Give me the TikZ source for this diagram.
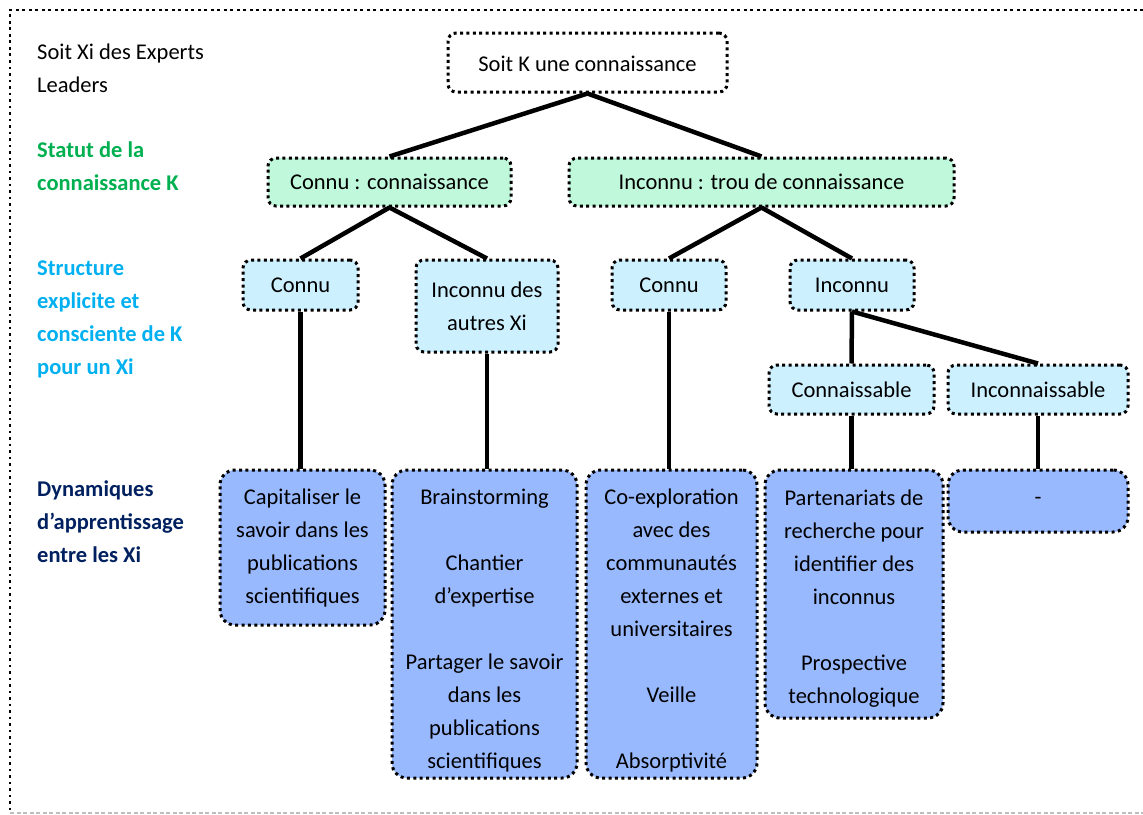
\documentclass[tikz,border=0pt]{standalone}
\usepackage{fontspec}
\setmainfont{Carlito}
\definecolor{lvgreen}{RGB}{191,248,218}
\definecolor{lvblue}{RGB}{205,240,255}
\definecolor{lvdark}{RGB}{153,185,255}
\definecolor{lblgreen}{RGB}{0,176,80}
\definecolor{lblcyan}{RGB}{0,176,240}
\definecolor{lblnavy}{RGB}{0,32,96}
\definecolor{bordergray}{RGB}{190,190,190}
\tikzset{
  txt/.style={font={\fontsize{22.5}{33}\selectfont}},
  dotbox/.style={txt, draw=black, line width=3pt, dash pattern=on 3pt off 3.4pt,
    align=center, inner sep=0pt, rounded corners=8pt},
  topbox/.style={dotbox, fill=white},
  greenbox/.style={dotbox, fill=lvgreen},
  bluebox/.style={dotbox, fill=lvblue},
  dynbox/.style={dotbox, fill=lvdark, rounded corners=15pt},
  link/.style={line width=4.5pt},
  sidelbl/.style={txt, anchor=west, align=left, inner sep=0pt},
}
\begin{document}
\begin{tikzpicture}[x=1pt,y=-1pt]
\useasboundingbox (0,0) rectangle (1143,814);
% outer frame
\draw[line width=2.8pt, dash pattern=on 2.8pt off 3.7pt] (1143,10) -- (10,10) -- (10,811);
\draw[bordergray, line width=1.8pt, dash pattern=on 4pt off 2.5pt] (10,813) -- (1143,813);

% side labels
\node[sidelbl] (l0) at (37,68) {Soit Xi des Experts\\Leaders};
\node[sidelbl, text=lblgreen, font={\fontsize{22.5}{33}\selectfont\bfseries}] (l1) at (37,166.5) {Statut de la\\connaissance K};
\node[sidelbl, text=lblcyan, font={\fontsize{22.5}{33}\selectfont\bfseries}] (l2) at (37,319) {Structure\\explicite et\\consciente de K\\pour un Xi};
\node[sidelbl, text=lblnavy, font={\fontsize{22.5}{33}\selectfont\bfseries}] (l3) at (37,522) {Dynamiques\\d’apprentissage\\entre les Xi};

% nodes
\node[topbox, minimum width=279pt, minimum height=59pt] (top) at (587.5,62.5) {\rule{0pt}{19pt}Soit K une connaissance};

\node[greenbox, minimum width=243pt, minimum height=48pt] (kc) at (389.5,182) {Connu : connaissance};
\node[greenbox, minimum width=385pt, minimum height=48pt] (ki) at (761.5,182) {Inconnu : trou de connaissance};

\node[bluebox, minimum width=115pt, minimum height=50pt] (s1) at (300.5,285) {Connu};
\node[bluebox, minimum width=142pt, minimum height=92pt] (s2) at (487,306) {Inconnu des\\autres Xi};
\node[bluebox, minimum width=114pt, minimum height=50pt] (s3) at (669,285) {Connu};
\node[bluebox, minimum width=124pt, minimum height=50pt] (s4) at (852,285) {Inconnu};
\node[bluebox, minimum width=165pt, minimum height=49pt] (s5) at (851.5,389.5) {Connaissable};
\node[bluebox, minimum width=180pt, minimum height=49pt] (s6) at (1038,389.5) {Inconnaissable};

\node[dynbox, minimum width=165pt, minimum height=155pt] (d1) at (302.5,547.5)
  {Capitaliser le\\savoir dans les\\publications\\scientifiques};
\node[dynbox, minimum width=185pt, minimum height=308pt] (d2) at (484.5,624)
  {\rule{0pt}{29pt}Brainstorming\\[33pt]Chantier\\d’expertise\\[33pt]Partager le savoir\\dans les\\publications\\scientifiques};
\node[dynbox, minimum width=171pt, minimum height=308pt] (d3) at (671.5,624)
  {\rule{0pt}{28pt}Co-exploration\\avec des\\communautés\\externes et\\universitaires\\[33pt]Veille\\[33pt]Absorptivité};
\node[dynbox, minimum width=178pt, minimum height=248pt] (d4) at (854,594)
  {\rule{0pt}{24pt}Partenariats de\\recherche pour\\identifier des\\inconnus\\[33pt]Prospective\\technologique};
\node[dynbox, minimum width=180pt, minimum height=62pt] (d5) at (1038,501) {-};

% connectors
\draw[link] (top.south) -- (kc.north);
\draw[link] (top.south) -- (ki.north);
\draw[link] (kc.south) -- (s1.north);
\draw[link] (kc.south) -- (s2.north);
\draw[link] (ki.south) -- (s3.north);
\draw[link] (ki.south) -- (s4.north);
\draw[link] (s4.south) -- (s5.north);
\draw[link] (s4.south) -- (s6.north);
\draw[link] (s1.south) -- (s1.south |- d1.north);
\draw[link] (s2.south) -- (s2.south |- d2.north);
\draw[link] (s3.south) -- (s3.south |- d3.north);
\draw[link] (s5.south) -- (s5.south |- d4.north);
\draw[link] (s6.south) -- (s6.south |- d5.north);
\end{tikzpicture}
\end{document}
